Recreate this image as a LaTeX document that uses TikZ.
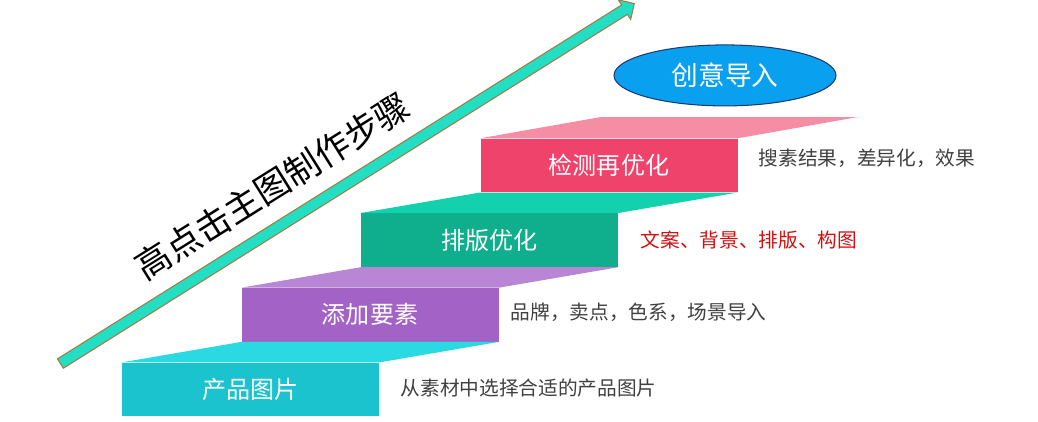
\documentclass[tikz,border=0pt]{standalone}
\usepackage{fontspec}
\setmainfont{Noto Sans CJK SC}
\usepackage{tikz}
\usetikzlibrary{positioning}
\usetikzlibrary{shapes.geometric,shapes.arrows}

\definecolor{cyanfront}{HTML}{1BC3CE}
\definecolor{cyantop}{HTML}{2BD9E3}
\definecolor{purplefront}{HTML}{A362C6}
\definecolor{purpletop}{HTML}{B985D5}
\definecolor{greenfront}{HTML}{0FAE8C}
\definecolor{greentop}{HTML}{14D1AE}
\definecolor{pinkfront}{HTML}{F0436C}
\definecolor{pinktop}{HTML}{F58DA5}
\definecolor{ideablue}{HTML}{0AA0F0}
\definecolor{ideaborder}{HTML}{1F3B6E}
\definecolor{arrowteal}{HTML}{22DFC3}
\definecolor{arrowbrown}{HTML}{A27B45}
\definecolor{notegrey}{HTML}{404040}
\definecolor{notered}{HTML}{D01010}

\tikzset{
    stepbox/.style={
           rectangle,
           minimum width=5.14cm,
           minimum height=1.07cm,
           inner sep=0pt,
           text=white,
           font=\fontsize{13.7pt}{16pt}\selectfont,
           text centered,
           },
    note/.style={
           inner sep=0pt,
           text=notegrey,
           font=\fontsize{11.2pt}{13pt}\selectfont,
           },
}

\begin{document}
\begin{tikzpicture}
[
>=stealth
]
\useasboundingbox (0,0) rectangle (20.76,-8.42);

 % STEP 1
 \node[stepbox,
 fill=cyanfront] (PRODUCT) at (5.01,-7.79)
 {%
产品图片
 };

 % STEP 2
 \node[stepbox,
 fill=purplefront,
 right of=PRODUCT,
 node distance=2.39cm,
 yshift=1.494cm] (ELEMENTS)
 {%
添加要素
 };

 % STEP 3
 \node[stepbox,
 fill=greenfront,
 right of=ELEMENTS,
 node distance=2.39cm,
 yshift=1.494cm] (LAYOUT)
 {%
排版优化
 };

 % STEP 4
 \node[stepbox,
 fill=pinkfront,
 right of=LAYOUT,
 node distance=2.39cm,
 yshift=1.494cm] (CHECK)
 {%
检测再优化
 };

 % top faces of the steps
 \fill[cyantop] (PRODUCT.north west) -- (PRODUCT.north east) -- (ELEMENTS.south east) -- (ELEMENTS.south west) -- cycle;
 \fill[purpletop] (ELEMENTS.north west) -- (ELEMENTS.north east) -- (LAYOUT.south east) -- (LAYOUT.south west) -- cycle;
 \fill[greentop] (LAYOUT.north west) -- (LAYOUT.north east) -- (CHECK.south east) -- (CHECK.south west) -- cycle;
 \fill[pinktop] (CHECK.north west) -- (CHECK.north east) -- ++(2.39,0.424) -- ++(-5.14,0) -- cycle;

 % notes right of the steps
 \node[note,
 right=0.42cm of PRODUCT,
 yshift=0.03cm] (PRODUCT_NOTE)
 {从素材中选择合适的产品图片};

 \node[note,
 right=0.23cm of ELEMENTS,
 yshift=0.06cm] (ELEMENTS_NOTE)
 {品牌，卖点，色系，场景导入};

 \node[note,
 text=notered,
 right=0.44cm of LAYOUT] (LAYOUT_NOTE)
 {文案、背景、排版、构图};

 \node[note,
 right=0.41cm of CHECK,
 yshift=0.14cm] (CHECK_NOTE)
 {搜素结果，差异化，效果};

 % IDEA
 \node[ellipse,
 draw=ideaborder,
 fill=ideablue,
 line width=0.6pt,
 minimum width=4.44cm,
 minimum height=1.22cm,
 text=white,
 font=\fontsize{15.2pt}{18pt}\selectfont,
 right of=CHECK,
 node distance=2.32cm,
 yshift=1.8cm] (IDEA)
 {%
创意导入
 };

 % big arrow and title
 \node[single arrow,
 draw=arrowbrown,
 fill=arrowteal,
 line width=0.6pt,
 minimum height=13.55cm,
 minimum width=0pt,
 inner sep=0.1cm,
 single arrow head extend=0.12cm,
 single arrow head indent=0pt,
 rotate=32.1] (ARROW) at (6.9,-3.7) {};

 \node[rotate=32.1,
 inner sep=0pt,
 font=\fontsize{20pt}{24pt}\selectfont] (TITLE) at (5.45,-3.72)
 {高点击主图制作步骤};

\end{tikzpicture}
\end{document}
